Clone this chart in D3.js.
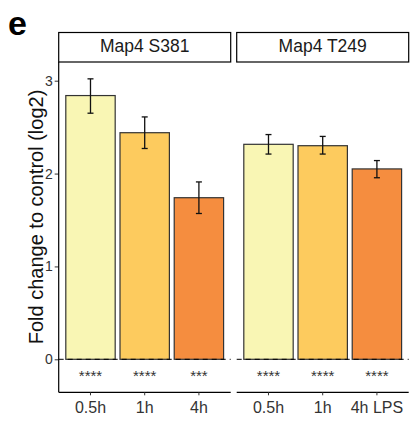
<!DOCTYPE html>
<html><head><meta charset="utf-8">
<script src="https://cdn.jsdelivr.net/npm/d3@7"></script>
<style>body{margin:0;background:#fff}</style>
</head><body>
<svg id="c" width="417" height="421"></svg>
<script>
const panels = ["Map4 S381", "Map4 T249"];
const categories = [["0.5h","1h","4h"],["0.5h","1h","4h LPS"]];
const values = [[2.84,2.44,1.74],[2.315,2.30,2.05]];
const errLow = [[2.65,2.27,1.57],[2.21,2.21,1.955]];
const errHigh = [[3.02,2.61,1.91],[2.42,2.40,2.14]];
const stars = [["****","****","***"],["****","****","****"]];
const yTicks = [0,1,2,3];
const colors = ["#F9F6B4","#FDCB5E","#F58D3F"];

(function(){
const svg = d3.select("#c");
const font = "Arial, 'Liberation Sans', sans-serif";
const plotTop = 62, plotBottom = 392.3;
const y = d3.scaleLinear().domain([0,3]).range([359.3,80.7]);
const panelX = [58.7, 236.7], panelW = 172;

svg.append("text").attr("x",8).attr("y",35).text("e")
  .attr("font-family",font).attr("font-weight","bold").attr("font-size",34);

svg.append("text").attr("transform","translate(43,217) rotate(-90)")
  .attr("text-anchor","middle").attr("font-family",font).attr("font-size",20)
  .attr("fill","#111").text("Fold change to control (log2)");

const ya = svg.append("g").attr("transform",`translate(${panelX[0]},0)`)
  .call(d3.axisLeft(y).tickValues(yTicks).tickSize(4).tickPadding(2).tickFormat(d3.format("d")));
ya.select(".domain").remove();
ya.selectAll("line").attr("stroke","#333");
ya.selectAll("text").attr("font-family",font).attr("font-size",14).attr("fill","#333");
svg.append("line").attr("x1",panelX[0]).attr("x2",panelX[0]).attr("y1",plotTop).attr("y2",plotBottom)
  .attr("stroke","#000").attr("stroke-width",1.2);

panels.forEach((p,pi)=>{
  const x0 = panelX[pi];
  const g = svg.append("g").attr("transform",`translate(${x0},0)`);
  const x = d3.scaleBand().domain(categories[pi]).range([0,panelW]).paddingInner(0.089).paddingOuter(0.131);
  g.append("rect").attr("x",0).attr("y",32.5).attr("width",panelW).attr("height",29.5)
    .attr("fill","#fff").attr("stroke","#000").attr("stroke-width",1.2);
  g.append("text").attr("x",panelW/2).attr("y",51.5).attr("text-anchor","middle")
    .attr("font-family",font).attr("font-size",17.5).attr("fill","#1a1a1a").text(p);
  g.selectAll("rect.bar").data(categories[pi]).join("rect").attr("class","bar")
    .attr("x",d=>x(d)).attr("width",x.bandwidth())
    .attr("y",(d,i)=>y(values[pi][i])).attr("height",(d,i)=>y(0)-y(values[pi][i]))
    .attr("fill",(d,i)=>colors[i]).attr("stroke","#333").attr("stroke-width",1.2);
  g.append("line").attr("x1",0).attr("x2",panelW).attr("y1",y(0)).attr("y2",y(0))
    .attr("stroke","#000").attr("stroke-width",1).attr("stroke-dasharray","5,4");
  categories[pi].forEach((c,i)=>{
    const cx = x(c)+x.bandwidth()/2;
    const eg = g.append("g").attr("stroke","#111").attr("stroke-width",1.3);
    eg.append("line").attr("x1",cx).attr("x2",cx).attr("y1",y(errHigh[pi][i])).attr("y2",y(errLow[pi][i]));
    eg.append("line").attr("x1",cx-3).attr("x2",cx+3).attr("y1",y(errHigh[pi][i])).attr("y2",y(errHigh[pi][i]));
    eg.append("line").attr("x1",cx-3).attr("x2",cx+3).attr("y1",y(errLow[pi][i])).attr("y2",y(errLow[pi][i]));
    g.append("text").attr("x",cx).attr("y",381).attr("text-anchor","middle")
      .attr("font-family",font).attr("font-size",15).attr("fill","#333").text(stars[pi][i]);
  });
  const xa = g.append("g").attr("transform",`translate(0,${plotBottom})`)
    .call(d3.axisBottom(x).tickSize(3).tickPadding(6));
  xa.select(".domain").attr("d",`M0,0H${panelW}`).attr("stroke","#000").attr("stroke-width",1.2);
  xa.selectAll("line").attr("stroke","#333");
  xa.selectAll("text").attr("font-family",font).attr("font-size",16).attr("fill","#333");
});
})();
</script>
</body></html>
